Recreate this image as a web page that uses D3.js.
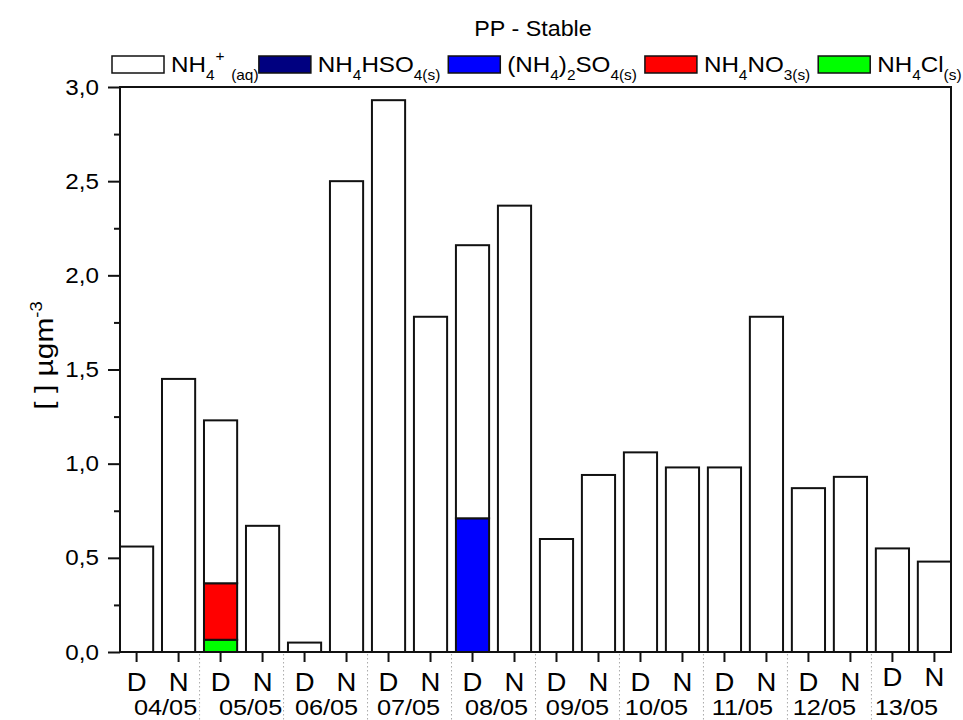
<!DOCTYPE html>
<html>
<head>
<meta charset="utf-8">
<script src="https://cdn.jsdelivr.net/npm/d3@7"></script>
<style>
  body { margin: 0; background: #fff; }
  svg { display: block; }
  text { font-family: "Liberation Sans", Arial, Helvetica, sans-serif; fill: #000; }
</style>
</head>
<body>
<svg id="chart" width="963" height="720"></svg>
<script>
// ---- data ----
const periods = ["D","N","D","N","D","N","D","N","D","N","D","N","D","N","D","N","D","N","D","N"];
const days = ["04/05","05/05","06/05","07/05","08/05","09/05","10/05","11/05","12/05","13/05"];
// ammonium species, µg m-3 (stacked per bar)
const nh4Aq   = [0.56, 1.45, 0.865, 0.67, 0.05, 2.50, 2.93, 1.78, 1.45, 2.37, 0.60, 0.94, 1.06, 0.98, 0.98, 1.78, 0.87, 0.93, 0.55, 0.48];
const nh4HSO4 = [0, 0, 0, 0, 0, 0, 0, 0, 0, 0, 0, 0, 0, 0, 0, 0, 0, 0, 0, 0];
const nh42SO4 = [0, 0, 0, 0, 0, 0, 0, 0, 0.71, 0, 0, 0, 0, 0, 0, 0, 0, 0, 0, 0];
const nh4NO3  = [0, 0, 0.30, 0, 0, 0, 0, 0, 0, 0, 0, 0, 0, 0, 0, 0, 0, 0, 0, 0];
const nh4Cl   = [0, 0, 0.065, 0, 0, 0, 0, 0, 0, 0, 0, 0, 0, 0, 0, 0, 0, 0, 0, 0];
const yTicks = [0, 0.5, 1.0, 1.5, 2.0, 2.5, 3.0];
const yMinorTicks = [0.25, 0.75, 1.25, 1.75, 2.25, 2.75];

// ---- layout ----
const W = 963, H = 720;
const plot = { left: 120, right: 951, top: 87, bottom: 652 };
const dateNudge = [8, 9, 1, -1, 3, 0, -5, -3, -5, -7];
const SX = 1.1; // horizontal glyph stretch used throughout

const svg = d3.select("#chart");
svg.append("rect").attr("width", W).attr("height", H).attr("fill", "#fff");

const idx = d3.range(periods.length);
const x = d3.scaleBand().domain(idx).range([plot.left, plot.right]).paddingInner(0.21).paddingOuter(0);
const y = d3.scaleLinear().domain([0, 3]).range([plot.bottom, plot.top]);
const bw = x.bandwidth();
const step = x.step();

const locale = d3.formatLocale({ decimal: ",", thousands: ".", grouping: [3], currency: ["", ""] });
const fmt = locale.format(".1f");

// place a text at (tx, ty) with a horizontal stretch
function placed(parent, tx, ty, sx, rot) {
  return parent.append("g")
    .attr("transform", `translate(${tx},${ty})${rot ? ` rotate(${rot})` : ""} scale(${sx},1)`)
    .append("text");
}

// ---- stacked bars ----
const series = [
  { key: "cl",   values: nh4Cl,   color: "#00ff00" },
  { key: "no3",  values: nh4NO3,  color: "#ff0000" },
  { key: "so4",  values: nh42SO4, color: "#0000ff" },
  { key: "hso4", values: nh4HSO4, color: "#000080" },
  { key: "aq",   values: nh4Aq,   color: "#ffffff" }
];
const rows = idx.map(i => {
  const r = { i };
  series.forEach(s => { r[s.key] = s.values[i]; });
  return r;
});
const stacked = d3.stack().keys(series.map(s => s.key))(rows);

const barsG = svg.append("g");
stacked.forEach((layer, li) => {
  barsG.append("g")
    .selectAll("rect")
    .data(layer.filter(d => d[1] > d[0]))
    .join("rect")
    .attr("x", d => x(d.data.i))
    .attr("width", bw)
    .attr("y", d => y(d[1]))
    .attr("height", d => y(d[0]) - y(d[1]))
    .attr("fill", series[li].color)
    .attr("stroke", "#111")
    .attr("stroke-width", 2);
});

// ---- day separators ----
svg.append("g").selectAll("line")
  .data(d3.range(1, days.length))
  .join("line")
  .attr("x1", d => x(2 * d) - (step - bw) / 2)
  .attr("x2", d => x(2 * d) - (step - bw) / 2)
  .attr("y1", plot.bottom + 2)
  .attr("y2", H)
  .attr("stroke", "#aaa")
  .attr("stroke-width", 1)
  .attr("stroke-dasharray", "1.5,2.5");

// ---- frame ----
svg.append("rect")
  .attr("x", plot.left).attr("y", plot.top)
  .attr("width", plot.right - plot.left).attr("height", plot.bottom - plot.top)
  .attr("fill", "none").attr("stroke", "#111").attr("stroke-width", 2);

// ---- y axis ----
const yAxis = svg.append("g").attr("transform", `translate(${plot.left},0)`)
  .call(d3.axisLeft(y).tickValues(yTicks).tickSize(12).tickSizeOuter(0).tickPadding(9).tickFormat(fmt));
yAxis.select(".domain").remove();
yAxis.selectAll("line").attr("stroke", "#111").attr("stroke-width", 2);
yAxis.selectAll("text").attr("font-size", 22).attr("font-family", null)
  .attr("transform", `scale(${SX},1)`)
  .attr("x", -21 / SX);

const yMinor = svg.append("g").attr("transform", `translate(${plot.left},0)`)
  .call(d3.axisLeft(y).tickValues(yMinorTicks).tickSize(6).tickSizeOuter(0).tickFormat(""));
yMinor.select(".domain").remove();
yMinor.selectAll("line").attr("stroke", "#111").attr("stroke-width", 2);

// ---- x axis (D / N) ----
const xAxis = svg.append("g").attr("transform", `translate(0,${plot.bottom})`)
  .call(d3.axisBottom(x).tickSize(10).tickSizeOuter(0).tickPadding(11).tickFormat(i => periods[i]));
xAxis.select(".domain").remove();
xAxis.selectAll("line").attr("stroke", "#111").attr("stroke-width", 2);
xAxis.selectAll("text").attr("font-size", 25).attr("font-family", null)
  .attr("transform", i => (i >= 18 ? `translate(0,-5) scale(${SX},1)` : `scale(${SX},1)`));

// ---- day labels ----
const dayG = svg.append("g");
days.forEach((d, k) => {
  placed(dayG, x(2 * k) + bw / 2 + step / 2 + dateNudge[k], 715, 1.15)
    .attr("text-anchor", "middle")
    .attr("font-size", 22)
    .text(d);
});

// ---- title ----
placed(svg, 533, 36, 1.06)
  .attr("text-anchor", "middle")
  .attr("font-size", 22)
  .text("PP - Stable");

// ---- y label ----
const yl = svg.append("g")
  .attr("transform", `translate(53,${(plot.top + plot.bottom) / 2 - 14}) rotate(-90) scale(1.15,1)`)
  .append("text")
  .attr("text-anchor", "middle")
  .attr("font-size", 26);
yl.append("tspan").text("[ ] \u00b5gm");
yl.append("tspan").attr("font-size", 16).attr("dy", -11).text("-3");

// ---- legend ----
const legendItems = [
  { color: "#ffffff", parts: [["NH", 0], ["4", 1], ["+", -1], ["(aq)", 1]] },
  { color: "#000080", parts: [["NH", 0], ["4", 1], ["HSO", 0], ["4(s)", 1]] },
  { color: "#0000ff", parts: [["(NH", 0], ["4", 1], [")", 0], ["2", 1], ["SO", 0], ["4(s)", 1]] },
  { color: "#ff0000", parts: [["NH", 0], ["4", 1], ["NO", 0], ["3(s)", 1]] },
  { color: "#00ff00", parts: [["NH", 0], ["4", 1], ["Cl", 0], ["(s)", 1]] }
];
const levelShift = { "0": 0, "1": 8, "-1": -11 };
const legend = svg.append("g");
let lx = 112;
const ly = 65;
legendItems.forEach(item => {
  legend.append("rect")
    .attr("x", lx).attr("y", ly - 9)
    .attr("width", 52).attr("height", 17)
    .attr("fill", item.color)
    .attr("stroke", "#111").attr("stroke-width", 1.5);
  const t = placed(legend, lx + 59, ly + 7, SX).attr("font-size", 22);
  let level = 0;
  item.parts.forEach(([s, lev]) => {
    const ts = t.append("tspan").text(s);
    const shift = levelShift[lev] - levelShift[level];
    if (shift) ts.attr("dy", shift);
    if (lev !== 0) ts.attr("font-size", 14);
    if (s === "+") ts.attr("dx", 1);
    if (s === "(aq)") ts.attr("dx", 6);
    level = lev;
  });
  const len = t.node().getComputedTextLength() * SX;
  lx = lx + 59 + len + 8;
});
</script>
</body>
</html>
